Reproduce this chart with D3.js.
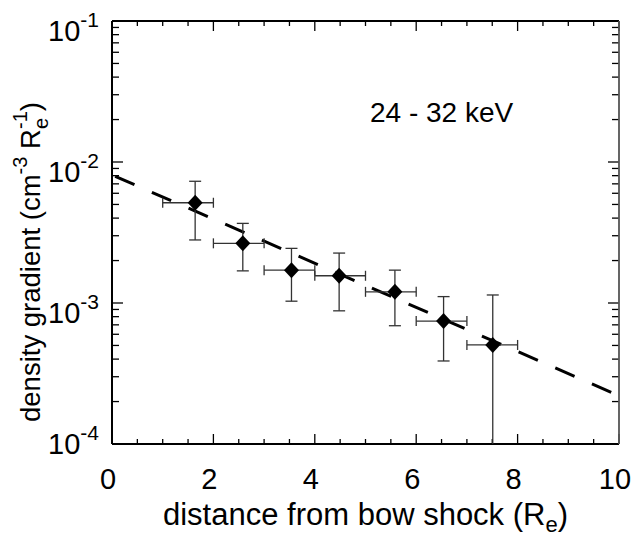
<!DOCTYPE html>
<html>
  <head>
    <script src="https://d3js.org/d3.v7.min.js"></script>
    <style>
      body { margin: 0; background: #fff; }
      text { font-family: "Liberation Sans", Arial, sans-serif; fill: #000; }
    </style>
  </head>
  <body>
    <svg id="chart" width="632" height="540"></svg>
    <script>
      var xs    = [1.64, 2.58, 3.54, 4.48, 5.58, 6.54, 7.51];
      var xLo   = [1.0, 2.0, 3.0, 4.0, 5.0, 6.0, 7.0];
      var xHi   = [2.0, 3.0, 4.0, 5.0, 6.0, 7.0, 8.0];
      var ys    = [5.14e-3, 2.65e-3, 1.71e-3, 1.56e-3, 1.20e-3, 7.45e-4, 5.04e-4];
      var yHi   = [7.3e-3, 3.67e-3, 2.44e-3, 2.26e-3, 1.71e-3, 1.11e-3, 1.14e-3];
      var yLo   = [2.8e-3, 1.69e-3, 1.03e-3, 8.8e-4, 6.9e-4, 3.88e-4, 1e-4];

      // exponential fit (dashed)
      var fitX = [0, 10];
      var fitY = [8.1e-3, 2.2e-4];

      var xTickLabels = [0, 2, 4, 6, 8, 10];
      var yTickExps = [-1, -2, -3, -4];

      var margin = {top: 21, right: 13, bottom: 96, left: 112};
      var width = 632 - margin.left - margin.right;
      var height = 540 - margin.top - margin.bottom;

      var svg = d3.select("#chart");
      var g = svg.append("g").attr("transform", "translate(" + margin.left + "," + margin.top + ")");

      var x = d3.scaleLinear().domain([0, 10]).range([0, width]);
      var y = d3.scaleLog().domain([1e-4, 1e-1]).range([height, 0]);

      var pts = xs.map(function(v, i) {
        return {x: v, y: ys[i], xl: xLo[i], xh: xHi[i], yl: yLo[i], yh: yHi[i]};
      });

      // x ticks every 0.5, longer at even numbers (bottom and top, pointing in)
      var xt = d3.range(0, 10.01, 0.5);
      [[height, -1], [0, 1]].forEach(function(s) {
        g.selectAll(null).data(xt).enter().append("line")
          .attr("x1", function(d) { return x(d); })
          .attr("x2", function(d) { return x(d); })
          .attr("y1", s[0])
          .attr("y2", function(d) { return s[0] + s[1] * (d % 2 === 0 ? 10 : 5); })
          .attr("stroke", "#000").attr("stroke-width", 1.3);
      });

      // log ticks on left and right
      var yt = [];
      [1e-4, 1e-3, 1e-2].forEach(function(dec) {
        for (var k = 1; k <= 9; k++) yt.push({v: dec * k, major: k === 1});
      });
      yt.push({v: 1e-1, major: true});
      [[0, 1], [width, -1]].forEach(function(s) {
        g.selectAll(null).data(yt).enter().append("line")
          .attr("y1", function(d) { return y(d.v); })
          .attr("y2", function(d) { return y(d.v); })
          .attr("x1", s[0])
          .attr("x2", function(d) { return s[0] + s[1] * (d.major ? 11 : 7); })
          .attr("stroke", "#000").attr("stroke-width", 1.3);
      });

      // frame
      g.append("line").attr("x1", 0).attr("x2", width).attr("y1", height).attr("y2", height)
        .attr("stroke", "#000").attr("stroke-width", 2.2);
      g.append("line").attr("x1", 0).attr("x2", 0).attr("y1", 0).attr("y2", height)
        .attr("stroke", "#000").attr("stroke-width", 2);
      g.append("line").attr("x1", 0).attr("x2", width).attr("y1", 0).attr("y2", 0)
        .attr("stroke", "#000").attr("stroke-width", 1.8);
      g.append("line").attr("x1", width).attr("x2", width).attr("y1", 0).attr("y2", height)
        .attr("stroke", "#555").attr("stroke-width", 1.8);

      // x tick labels
      g.selectAll(null).data(xTickLabels).enter().append("text")
        .attr("x", function(d) { return x(d) - 4; })
        .attr("y", height + 45)
        .attr("text-anchor", "middle")
        .style("font-size", "29px")
        .text(function(d) { return d; });

      // y tick labels 10^n
      yTickExps.forEach(function(e) {
        var ty = y(Math.pow(10, e)) + (e === -4 ? 10 : 20);
        var t = g.append("text")
          .attr("x", -13)
          .attr("y", ty)
          .attr("text-anchor", "end");
        t.append("tspan").style("font-size", "29px").text("10");
        t.append("tspan").style("font-size", "21px").attr("dy", -14).text("-" + (-e));
      });

      // dashed fit line
      var line = d3.line()
        .x(function(d) { return x(d[0]); })
        .y(function(d) { return y(d[1]); });
      g.append("path")
        .datum(fitX.map(function(v, i) { return [v, fitY[i]]; }))
        .attr("d", line)
        .attr("fill", "none")
        .attr("stroke", "#000")
        .attr("stroke-width", 3)
        .attr("stroke-dasharray", "21,19")
        .attr("stroke-dashoffset", 36.5);

      // error bars
      var eb = g.selectAll(".eb").data(pts).enter().append("g").attr("class", "eb")
        .attr("stroke", "#333").attr("stroke-width", 1.3);
      eb.append("line")
        .attr("x1", function(d) { return x(d.x); }).attr("x2", function(d) { return x(d.x); })
        .attr("y1", function(d) { return y(d.yl); }).attr("y2", function(d) { return y(d.yh); });
      eb.append("line")
        .attr("x1", function(d) { return x(d.x) - 6; }).attr("x2", function(d) { return x(d.x) + 6; })
        .attr("y1", function(d) { return y(d.yh); }).attr("y2", function(d) { return y(d.yh); });
      eb.filter(function(d) { return d.yl > 1e-4; }).append("line")
        .attr("x1", function(d) { return x(d.x) - 6; }).attr("x2", function(d) { return x(d.x) + 6; })
        .attr("y1", function(d) { return y(d.yl); }).attr("y2", function(d) { return y(d.yl); });
      eb.append("line")
        .attr("x1", function(d) { return x(d.xl); }).attr("x2", function(d) { return x(d.xh); })
        .attr("y1", function(d) { return y(d.y); }).attr("y2", function(d) { return y(d.y); });
      eb.append("line")
        .attr("x1", function(d) { return x(d.xl); }).attr("x2", function(d) { return x(d.xl); })
        .attr("y1", function(d) { return y(d.y) - 5; }).attr("y2", function(d) { return y(d.y) + 5; });
      eb.append("line")
        .attr("x1", function(d) { return x(d.xh); }).attr("x2", function(d) { return x(d.xh); })
        .attr("y1", function(d) { return y(d.y) - 5; }).attr("y2", function(d) { return y(d.y) + 5; });

      // diamond markers
      g.selectAll(".pt").data(pts).enter().append("path")
        .attr("class", "pt")
        .attr("d", "M0,-8L7.5,0L0,8L-7.5,0Z")
        .attr("transform", function(d) { return "translate(" + x(d.x) + "," + y(d.y) + ")"; })
        .attr("fill", "#000");

      // energy label
      g.append("text")
        .attr("x", 370 - margin.left)
        .attr("y", 122 - margin.top)
        .style("font-size", "28px")
        .text("24 - 32 keV");

      // x axis title
      var xt2 = svg.append("text")
        .attr("x", margin.left + width / 2)
        .attr("y", 525)
        .attr("text-anchor", "middle")
        .style("font-size", "31px");
      xt2.append("tspan").text("distance from bow shock (R");
      xt2.append("tspan").attr("dy", 7).style("font-size", "22px").text("e");
      xt2.append("tspan").attr("dy", -7).text(")");

      // y axis title
      var yt2 = svg.append("text")
        .attr("transform", "translate(40," + 262 + ") rotate(-90)")
        .attr("text-anchor", "middle")
        .style("font-size", "27.5px");
      yt2.append("tspan").text("density gradient (cm");
      yt2.append("tspan").attr("dy", -13).style("font-size", "20px").text("-3");
      yt2.append("tspan").attr("dy", 13).text(" R");
      yt2.append("tspan").attr("dy", 8).style("font-size", "20px").text("e");
      yt2.append("tspan").attr("dy", -21).attr("dx", -11).style("font-size", "20px").text("-1");
      yt2.append("tspan").attr("dy", 13).text(")");
    </script>
  </body>
</html>
